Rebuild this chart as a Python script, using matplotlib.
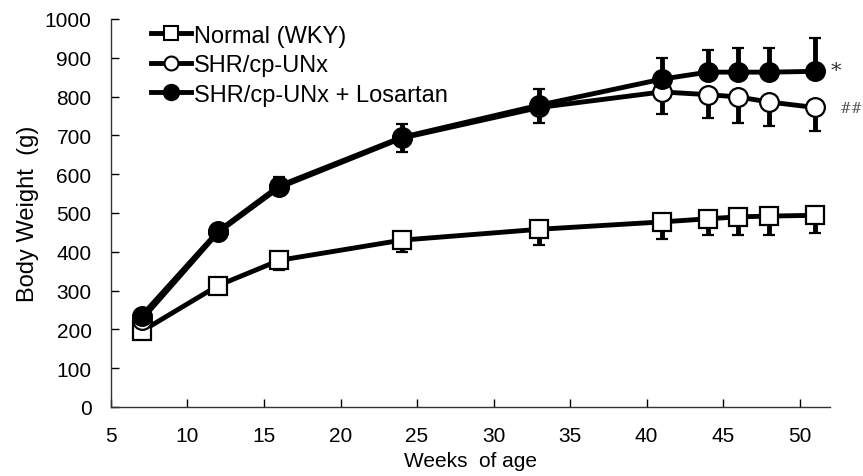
import numpy as np
import matplotlib.pyplot as plt
from matplotlib.lines import Line2D

plt.rcParams['font.family'] = ['Liberation Sans', 'DejaVu Sans']

# Body weight (g), mean and SD
weeks = [7, 12, 16, 24, 33, 41, 44, 46, 48, 51]

wky = [195, 313, 378, 430, 458, 477, 485, 490, 492, 494]
wky_sd = [10, 12, 25, 30, 40, 45, 42, 48, 48, 45]

unx = [225, 450, 566, 693, 772, 812, 805, 799, 786, 772]
unx_sd = [10, 15, 20, 35, 40, 57, 60, 67, 62, 60]

los = [235, 453, 570, 695, 778, 845, 863, 863, 863, 865]
los_sd = [10, 18, 22, 35, 42, 55, 57, 63, 63, 85]

labels = ['Normal (WKY)', 'SHR/cp-UNx', 'SHR/cp-UNx + Losartan']

zero = np.zeros(len(weeks))

fig = plt.figure(figsize=(8.63, 4.77), dpi=100)
ax = fig.add_axes([0.1286, 0.1447, 0.8334, 0.8134])

lw = 3.5
common = dict(color='black', lw=lw, mec='black', mew=1.6, ecolor='black',
              elinewidth=3.5, capsize=4, capthick=4)
ax.errorbar(weeks, wky, yerr=[wky_sd, zero], marker='s', ms=13, mfc='white',
            zorder=3, **common)
ax.errorbar(weeks, unx, yerr=[unx_sd, zero], marker='o', ms=13.5, mfc='white',
            zorder=4, **common)
ax.errorbar(weeks, los, yerr=[zero, los_sd], marker='o', ms=13.5, mfc='black',
            zorder=5, **common)

# significance marks
ax.text(52.05, 866, '*', fontsize=15, color='#333333', family='DejaVu Serif',
        ha='left', va='center', clip_on=False)
ax.text(52.6, 770, '##', fontsize=10, color='#555555', family='DejaVu Serif',
        ha='left', va='center', clip_on=False)

ax.set_xlim(5, 52)
ax.set_ylim(0, 1000)
ax.set_xticks(range(5, 51, 5))
ax.set_yticks(range(0, 1001, 100))
ax.tick_params(direction='in', length=6, width=1, labelsize=15)
ax.tick_params(axis='x', pad=14)
ax.tick_params(axis='y', pad=14)
for s in ['top', 'right']:
    ax.spines[s].set_visible(False)
for s in ['left', 'bottom']:
    ax.spines[s].set_linewidth(1)
    ax.spines[s].set_color('#333333')

ax.set_xlabel('Weeks  of age', fontsize=15, labelpad=4)
ax.set_ylabel('Body Weight  (g)', fontsize=17, labelpad=4)

# legend entries without the error bars
handles = [
    Line2D([], [], color='black', lw=lw, marker='s', ms=10, mfc='white', mec='black', mew=1.5),
    Line2D([], [], color='black', lw=lw, marker='o', ms=10, mfc='white', mec='black', mew=1.5),
    Line2D([], [], color='black', lw=lw, marker='o', ms=11, mfc='black', mec='black', mew=1.5),
]
ax.legend(handles, labels, loc='upper left', bbox_to_anchor=(0.042, 1.01),
          frameon=False, fontsize=17, handlelength=1.7, handletextpad=0.15,
          labelspacing=0.32, borderaxespad=0)

fig.savefig('out.png', dpi=100)
